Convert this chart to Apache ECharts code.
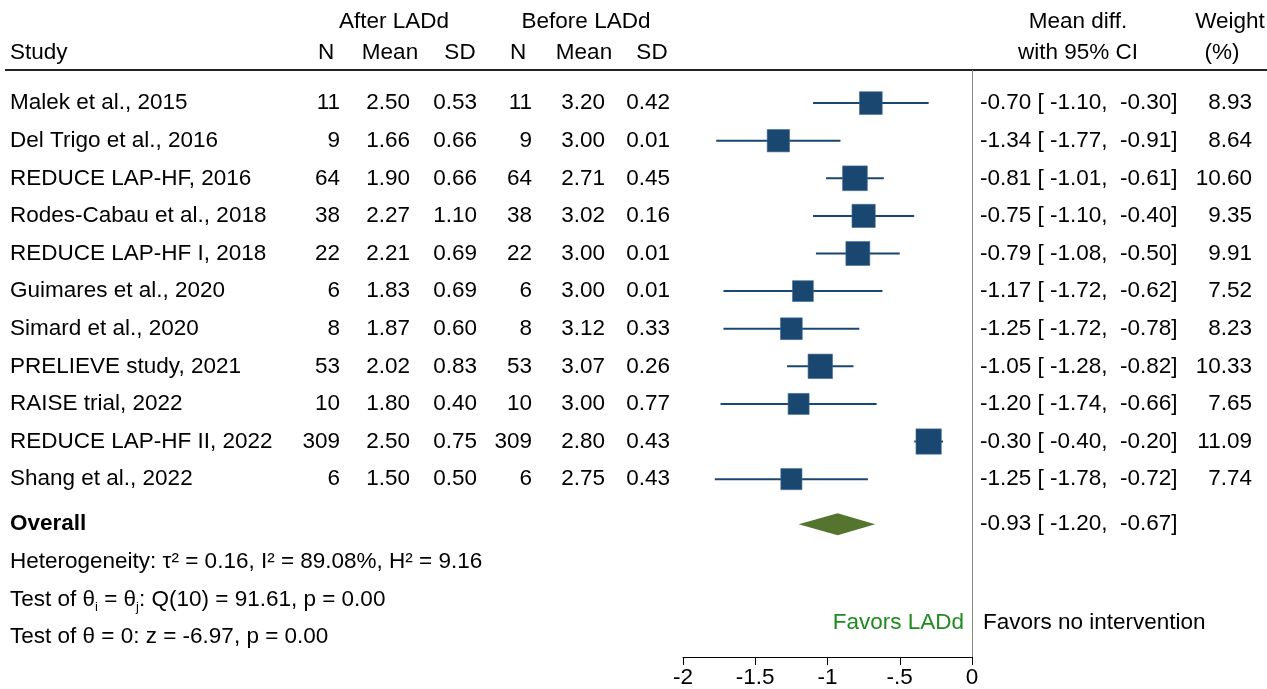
<!DOCTYPE html>
<html>
<head>
<meta charset="utf-8">
<script src="https://cdn.jsdelivr.net/npm/echarts@6/dist/echarts.min.js"></script>
<style>
  html, body { margin: 0; padding: 0; background: #fff; }
  #chart { width: 1267px; height: 689px; }
</style>
</head>
<body>
<div id="chart"></div>
<script>
var studies = ['Malek et al., 2015', 'Del Trigo et al., 2016', 'REDUCE LAP-HF, 2016', 'Rodes-Cabau et al., 2018',
    'REDUCE LAP-HF I, 2018', 'Guimares et al., 2020', 'Simard et al., 2020', 'PRELIEVE study, 2021',
    'RAISE trial, 2022', 'REDUCE LAP-HF II, 2022', 'Shang et al., 2022'];
var nAfter = [11, 9, 64, 38, 22, 6, 8, 53, 10, 309, 6];
var meanAfter = [2.50, 1.66, 1.90, 2.27, 2.21, 1.83, 1.87, 2.02, 1.80, 2.50, 1.50];
var sdAfter = [0.53, 0.66, 0.66, 1.10, 0.69, 0.69, 0.60, 0.83, 0.40, 0.75, 0.50];
var nBefore = [11, 9, 64, 38, 22, 6, 8, 53, 10, 309, 6];
var meanBefore = [3.20, 3.00, 2.71, 3.02, 3.00, 3.00, 3.12, 3.07, 3.00, 2.80, 2.75];
var sdBefore = [0.42, 0.01, 0.45, 0.16, 0.01, 0.01, 0.33, 0.26, 0.77, 0.43, 0.43];
var meanDiff = [-0.70, -1.34, -0.81, -0.75, -0.79, -1.17, -1.25, -1.05, -1.20, -0.30, -1.25];
var ciLow = [-1.10, -1.77, -1.01, -1.10, -1.08, -1.72, -1.72, -1.28, -1.74, -0.40, -1.78];
var ciHigh = [-0.30, -0.91, -0.61, -0.40, -0.50, -0.62, -0.78, -0.82, -0.66, -0.20, -0.72];
var weight = [8.93, 8.64, 10.60, 9.35, 9.91, 7.52, 8.23, 10.33, 7.65, 11.09, 7.74];
var overall = [-0.93, -1.20, -0.67];   // estimate, low, high
var overallRow = 11.2;
var xTicks = ['-2', '-1.5', '-1', '-.5', '0'];

var FAM = '"Liberation Sans", Arial, Helvetica, sans-serif';
var FONT = '22.5px ' + FAM;
var BLUE = '#1a476f';
var GREEN = '#55752f';

function f2(v) { return v.toFixed(2); }
function pad(s, n) { while (s.length < n) s = ' ' + s; return s; }
function ciText(m, lo, hi) {
    return f2(m) + ' [' + pad(f2(lo), 6) + ', ' + pad(f2(hi), 6) + ']';
}

// table columns: x pixel and alignment
var cols = [
    {x: 10, align: 'left', get: function (i) { return studies[i]; }},
    {x: 340, align: 'right', get: function (i) { return String(nAfter[i]); }},
    {x: 410, align: 'right', get: function (i) { return f2(meanAfter[i]); }},
    {x: 477, align: 'right', get: function (i) { return f2(sdAfter[i]); }},
    {x: 532, align: 'right', get: function (i) { return String(nBefore[i]); }},
    {x: 605, align: 'right', get: function (i) { return f2(meanBefore[i]); }},
    {x: 670, align: 'right', get: function (i) { return f2(sdBefore[i]); }},
    {x: 980, align: 'left', get: function (i) { return ciText(meanDiff[i], ciLow[i], ciHigh[i]); }},
    {x: 1252, align: 'right', get: function (i) { return f2(weight[i]); }}
];

function txt(x, y, text, align, extra) {
    var st = {text: text, x: x, y: y, font: FONT, fill: '#000',
        align: align, textAlign: align, verticalAlign: 'middle', textVerticalAlign: 'middle'};
    if (extra) for (var k in extra) st[k] = extra[k];
    return {type: 'text', style: st};
}

var rowData = studies.map(function (s, i) { return [meanDiff[i], i]; });

var option = {
    animation: false,
    backgroundColor: '#fff',
    grid: {left: 683, right: 295, top: 70, bottom: 32},
    xAxis: {
        type: 'value', min: -2, max: 0, interval: 0.5,
        axisLine: {show: true, onZero: false, lineStyle: {color: '#000', width: 1}},
        axisTick: {show: true, length: 8, lineStyle: {color: '#000'}},
        splitLine: {show: false},
        axisLabel: {
            color: '#000', fontSize: 22.5, fontFamily: FAM, margin: 9,
            formatter: function (v) { return xTicks[Math.round((v + 2) / 0.5)]; }
        }
    },
    yAxis: {
        type: 'value', inverse: true, min: -0.88, max: 14.73,
        show: false, splitLine: {show: false}
    },
    graphic: [
        {type: 'line', shape: {x1: 5, y1: 70, x2: 1267, y2: 70}, style: {stroke: '#222', lineWidth: 2}},
        txt(394, 22, 'After LADd', 'center'),
        txt(586, 22, 'Before LADd', 'center'),
        txt(1078, 22, 'Mean diff.', 'center'),
        txt(1230, 22, 'Weight', 'center'),
        txt(10, 53, 'Study', 'left'),
        txt(326, 53, 'N', 'center'),
        txt(390, 53, 'Mean', 'center'),
        txt(460, 53, 'SD', 'center'),
        txt(518, 53, 'N', 'center'),
        txt(584, 53, 'Mean', 'center'),
        txt(652, 53, 'SD', 'center'),
        txt(1078, 53, 'with 95% CI', 'center'),
        txt(1222, 53, '(%)', 'center'),
        txt(10, 562, 'Heterogeneity: \u03c4\u00b2 = 0.16, I\u00b2 = 89.08%, H\u00b2 = 9.16', 'left'),
        {
            type: 'text',
            style: {
                x: 10, y: 600, align: 'left', textAlign: 'left', verticalAlign: 'middle', textVerticalAlign: 'middle',
                text: '{a|Test of \u03b8}{s|i}{a| = \u03b8}{s|j}{a|: Q(10) = 91.61, p = 0.00}',
                rich: {
                    a: {font: FONT, fill: '#000', lineHeight: 28, verticalAlign: 'middle'},
                    s: {font: '13px ' + FAM, fill: '#000', lineHeight: 12, verticalAlign: 'bottom'}
                }
            }
        },
        txt(10, 637, 'Test of \u03b8 = 0: z = -6.97, p = 0.00', 'left'),
        txt(964, 623, 'Favors LADd', 'right', {fill: '#1f8a1f'}),
        txt(983, 623, 'Favors no intervention', 'left')
    ],
    series: [
        {
            // table text rows
            type: 'custom',
            data: rowData,
            clip: false,
            silent: true,
            renderItem: function (params, api) {
                var i = api.value(1);
                var y = api.coord([0, i])[1];
                return {
                    type: 'group',
                    children: cols.map(function (c) { return txt(c.x, y, c.get(i), c.align); })
                };
            },
            markLine: {
                silent: true, symbol: 'none', label: {show: false},
                lineStyle: {color: '#8a8a8a', width: 1, type: 'solid'},
                data: [{xAxis: 0}]
            }
        },
        {
            // CI whiskers and weighted squares
            type: 'custom',
            data: rowData,
            clip: false,
            silent: true,
            renderItem: function (params, api) {
                var i = api.value(1);
                var c = api.coord([meanDiff[i], i]);
                var l = api.coord([ciLow[i], i]);
                var h = api.coord([ciHigh[i], i]);
                var side = 7.6 * Math.sqrt(weight[i]);
                return {
                    type: 'group',
                    children: [
                        {type: 'line', shape: {x1: l[0], y1: l[1], x2: h[0], y2: h[1]},
                            style: {stroke: BLUE, lineWidth: 2}},
                        {type: 'rect', shape: {x: c[0] - side / 2, y: c[1] - side / 2, width: side, height: side},
                            style: {fill: BLUE, stroke: '#3d6a92', lineWidth: 0.6}}
                    ]
                };
            }
        },
        {
            // overall diamond and its row text
            type: 'custom',
            data: [[overall[0], overallRow]],
            clip: false,
            silent: true,
            renderItem: function (params, api) {
                var r = api.value(1);
                var c = api.coord([overall[0], r]);
                var l = api.coord([overall[1], r]);
                var h = api.coord([overall[2], r]);
                var hh = 11;
                return {
                    type: 'group',
                    children: [
                        {type: 'polygon', shape: {points: [[l[0], c[1]], [c[0], c[1] - hh], [h[0], c[1]], [c[0], c[1] + hh]]},
                            style: {fill: GREEN}},
                        txt(10, c[1], 'Overall', 'left', {font: 'bold ' + FONT}),
                        txt(980, c[1], ciText(overall[0], overall[1], overall[2]), 'left')
                    ]
                };
            }
        }
    ]
};

var chart = echarts.init(document.getElementById('chart'));
chart.setOption(option);
</script>
</body>
</html>
